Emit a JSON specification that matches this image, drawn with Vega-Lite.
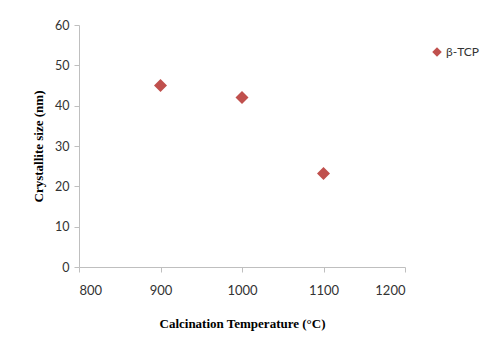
{
  "$schema": "https://vega.github.io/schema/vega-lite/v6.json",
  "width": 326,
  "height": 242,
  "autosize": "none",
  "padding": {"left": 79, "top": 25, "right": 91, "bottom": 85},
  "background": "white",
  "data": {
    "values": [
      {"temperature": 900, "size": 45, "series": "β-TCP"},
      {"temperature": 1000, "size": 42, "series": "β-TCP"},
      {"temperature": 1100, "size": 23.2, "series": "β-TCP"}
    ]
  },
  "mark": {"type": "point", "shape": "diamond", "filled": true, "opacity": 1, "size": 170},
  "encoding": {
    "x": {
      "field": "temperature",
      "type": "quantitative",
      "scale": {"domain": [800, 1200], "nice": false, "zero": false},
      "axis": {
        "values": [800, 900, 1000, 1100, 1200],
        "format": "d",
        "title": "Calcination Temperature (°C)",
        "grid": false,
        "labelFontSize": 13,
        "labelPadding": 12,
        "titlePadding": 20
      }
    },
    "y": {
      "field": "size",
      "type": "quantitative",
      "scale": {"domain": [0, 60], "nice": false},
      "axis": {
        "values": [0, 10, 20, 30, 40, 50, 60],
        "title": "Crystallite size (nm)",
        "grid": false,
        "labelFontSize": 12.5,
        "labelPadding": 5,
        "titlePadding": 9
      }
    },
    "color": {
      "field": "series",
      "type": "nominal",
      "scale": {"range": ["#C0504D"]},
      "legend": {
        "title": null,
        "orient": "none",
        "legendX": 352,
        "legendY": 21,
        "symbolType": "diamond",
        "symbolSize": 90,
        "labelFontSize": 12,
        "labelFont": "Lato",
        "labelColor": "#333333",
        "symbolOffset": 0,
        "labelOffset": 3
      }
    }
  },
  "config": {
    "view": {"stroke": null},
    "axis": {
      "domainColor": "#bfbfbf",
      "tickColor": "#bfbfbf",
      "tickSize": 5,
      "labelFont": "Lato",
      "labelColor": "#333333",
      "titleFont": "Liberation Serif",
      "titleFontSize": 13,
      "titleFontWeight": "bold",
      "titleColor": "#000000"
    }
  }
}
